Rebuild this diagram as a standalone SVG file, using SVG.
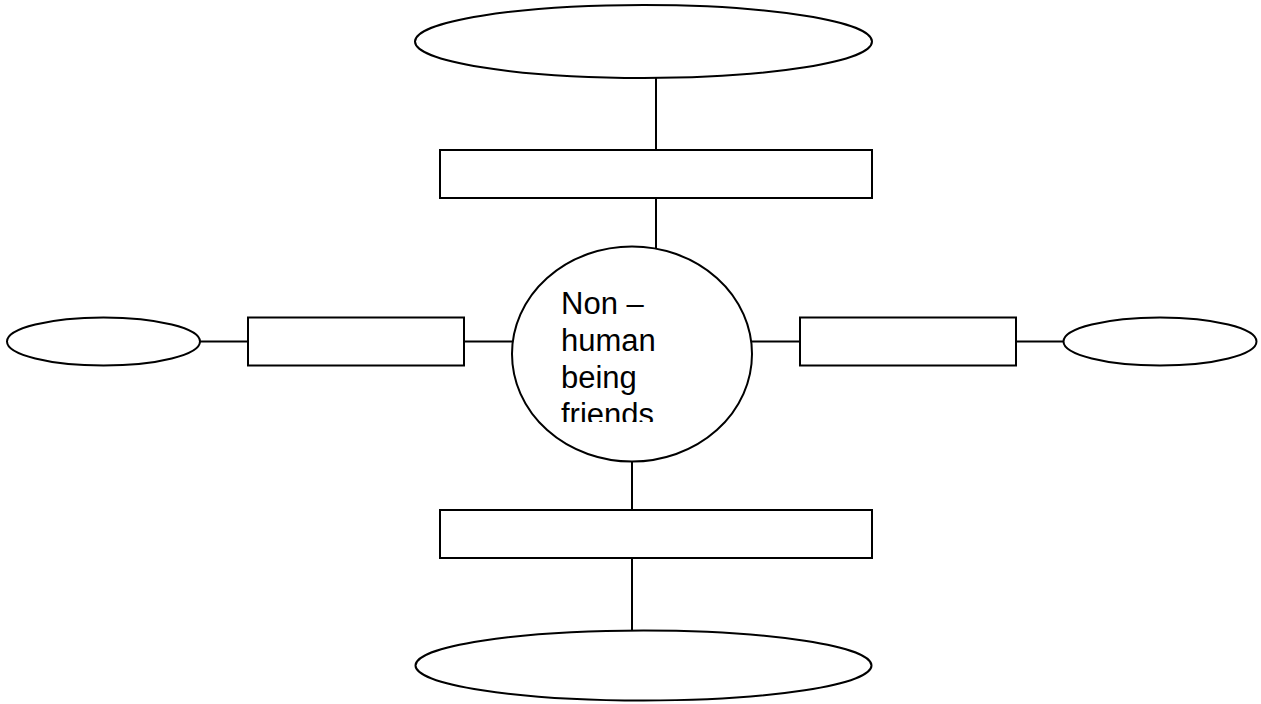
<svg xmlns="http://www.w3.org/2000/svg" width="1261" height="704" viewBox="0 0 1261 704">
<style>
.s{fill:#fff;stroke:#000;stroke-width:2}
.c line{stroke:#000;stroke-width:2}
.t{font-family:"Liberation Sans",Arial,sans-serif;font-size:31px;fill:#000}
</style>
<defs>
<clipPath id="clip"><rect x="540" y="270" width="200" height="152"/></clipPath>
</defs>
<rect width="1261" height="704" fill="#fff"/>
<g class="c" id="connectors">
<line x1="656" y1="78" x2="656" y2="150"/>
<line x1="656" y1="198" x2="656" y2="248"/>
<line x1="632" y1="461" x2="632" y2="510"/>
<line x1="632" y1="558" x2="632" y2="630"/>
<line x1="200" y1="341.5" x2="248" y2="341.5"/>
<line x1="464" y1="341.5" x2="512" y2="341.5"/>
<line x1="752" y1="341.5" x2="800" y2="341.5"/>
<line x1="1016" y1="341.5" x2="1064" y2="341.5"/>
</g>
<g id="top-ellipse"><ellipse class="s" cx="643.5" cy="41.5" rx="228.5" ry="36.5"/></g>
<g id="top-box"><rect class="s" x="440" y="150" width="432" height="48"/></g>
<g id="bottom-box"><rect class="s" x="440" y="510" width="432" height="48"/></g>
<g id="bottom-ellipse"><ellipse class="s" cx="643.5" cy="665.5" rx="228" ry="35"/></g>
<g id="left-ellipse"><ellipse class="s" cx="103.5" cy="341.5" rx="96.5" ry="24"/></g>
<g id="left-box"><rect class="s" x="248" y="317.5" width="216" height="48"/></g>
<g id="right-box"><rect class="s" x="800" y="317.5" width="216" height="48"/></g>
<g id="right-ellipse"><ellipse class="s" cx="1160" cy="341.5" rx="96.5" ry="24"/></g>
<g id="center">
<ellipse class="s" cx="632" cy="354" rx="120" ry="107.5"/>
<text class="t" clip-path="url(#clip)"><tspan x="561" y="314">Non –</tspan><tspan x="561" y="351">human</tspan><tspan x="561" y="388">being</tspan><tspan x="561" y="425">friends</tspan></text>
</g>
</svg>
